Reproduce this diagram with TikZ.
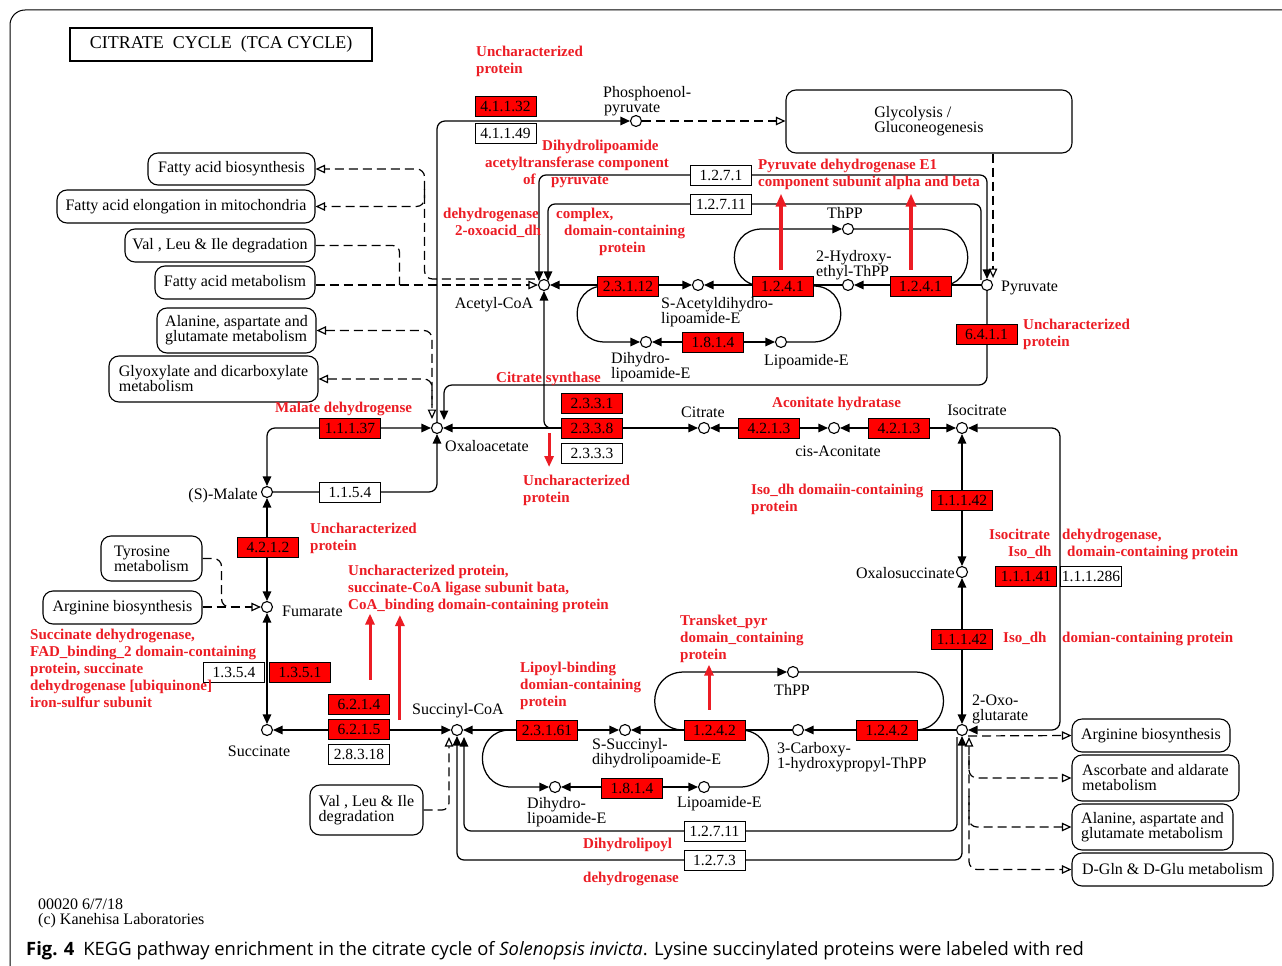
\documentclass[tikz,border=0pt]{standalone}
\usepackage{fontspec}
\setmainfont{Liberation Serif}
\newfontfamily\capfont{Open Sans}
\usetikzlibrary{arrows.meta,calc}
\definecolor{ecred}{RGB}{255,0,0}
\definecolor{annred}{RGB}{236,28,36}
\pgfdeclarelayer{bg}
\pgfsetlayers{bg,main}
\tikzset{
 tri/.tip={Triangle[length=9.5pt,width=8.5pt]},
 otri/.tip={Triangle[open,length=9.5pt,width=8.5pt]},
 cpd/.style={circle,draw,fill=white,line width=1.1pt,minimum size=11pt,inner sep=0pt},
 ecr/.style={draw,line width=0.8pt,fill=ecred,minimum width=61pt,minimum height=20pt,inner sep=0pt,font=\fontsize{15.5}{15}\selectfont},
 ecw/.style={ecr,fill=white},
 pmap/.style={draw,line width=1.1pt,rounded corners=10pt,fill=white,inner sep=0pt,align=left,font=\fontsize{16}{15}\selectfont},
 bl/.style={inner sep=0pt,anchor=base west,font=\fontsize{16}{15}\selectfont},
 blc/.style={bl,anchor=base},
 ble/.style={bl,anchor=base east},
 rl/.style={inner sep=0pt,anchor=base west,text=annred,font=\fontsize{15}{17}\selectfont\bfseries},
 ln/.style={line width=1.25pt},
 dsh/.style={line width=1.2pt,dash pattern=on 9pt off 5pt},
 rarr/.style={draw=annred,line width=3.5pt,-{Triangle[length=13pt,width=10pt]}},
 rarrs/.style={draw=annred,line width=3pt,-{Triangle[length=11pt,width=9pt]}}
}
\begin{document}
\begin{tikzpicture}[x=1pt,y=-1pt]
\useasboundingbox (0,0) rectangle (1282,966);
% ---------- title
\node[draw,line width=2pt,minimum width=302pt,minimum height=33pt,inner sep=0pt,font=\fontsize{18}{18}\selectfont] (title) at (221,44.5) {CITRATE\ \ CYCLE\ \ (TCA CYCLE)};
% ---------- compounds
\node[cpd] (c_pep) at (636,121) {};
\node[cpd] (c_acoa) at (544,285) {};
\node[cpd] (c_pyr) at (987,285) {};
\node[cpd] (c_thppa) at (848,229) {};
\node[cpd] (c_het) at (848,285) {};
\node[cpd] (c_sadl) at (698,285) {};
\node[cpd] (c_dhla) at (646,342) {};
\node[cpd] (c_lipa) at (781,342) {};
\node[cpd] (c_oaa) at (437,428) {};
\node[cpd] (c_cit) at (704,428) {};
\node[cpd] (c_cis) at (834,428) {};
\node[cpd] (c_icit) at (962,428) {};
\node[cpd] (c_mal) at (267,492) {};
\node[cpd] (c_oxs) at (962,572) {};
\node[cpd] (c_fum) at (267,607) {};
\node[cpd] (c_suc) at (267,730) {};
\node[cpd] (c_scoa) at (457,730) {};
\node[cpd] (c_ssdl) at (625,730) {};
\node[cpd] (c_thppb) at (793,672) {};
\node[cpd] (c_chpt) at (798,730) {};
\node[cpd] (c_dhlb) at (555,787) {};
\node[cpd] (c_lipb) at (704,787) {};
\node[cpd] (c_og) at (962,730) {};
% ---------- enzymes
\node[ecr] (e41132) at (505.5,106) {4.1.1.32};
\node[ecw] (e41149) at (505.5,133) {4.1.1.49};
\node[ecw] (e1271) at (721,175) {1.2.7.1};
\node[ecw] (e12711a) at (721,204) {1.2.7.11};
\node[ecr] (e23112) at (628,286) {2.3.1.12};
\node[ecr] (e1241a) at (782.5,286) {1.2.4.1};
\node[ecr] (e1241b) at (920.5,286) {1.2.4.1};
\node[ecr] (e1814a) at (713,342) {1.8.1.4};
\node[ecr] (e6411) at (986.5,334) {6.4.1.1};
\node[ecr] (e2331) at (592,403) {2.3.3.1};
\node[ecr] (e2338) at (592,428) {2.3.3.8};
\node[ecw] (e2333) at (592,453) {2.3.3.3};
\node[ecr] (e4213a) at (769,428) {4.2.1.3};
\node[ecr] (e4213b) at (899,428) {4.2.1.3};
\node[ecr] (e11137) at (350,428) {1.1.1.37};
\node[ecw] (e1154) at (350,492) {1.1.5.4};
\node[ecr] (e11142a) at (962,500) {1.1.1.42};
\node[ecr] (e4212) at (268,547) {4.2.1.2};
\node[ecr] (e11141) at (1026,576) {1.1.1.41};
\node[ecw] (e111286) at (1091,576) {1.1.1.286};
\node[ecr] (e11142b) at (962,639) {1.1.1.42};
\node[ecw] (e1354) at (234,672) {1.3.5.4};
\node[ecr] (e1351) at (300,672) {1.3.5.1};
\node[ecr] (e6214) at (359,704) {6.2.1.4};
\node[ecr] (e6215) at (359,729) {6.2.1.5};
\node[ecw] (e28318) at (359,754) {2.8.3.18};
\node[ecr] (e23161) at (547,730) {2.3.1.61};
\node[ecr] (e1242a) at (714.5,730) {1.2.4.2};
\node[ecr] (e1242b) at (887,730) {1.2.4.2};
\node[ecr] (e1814b) at (632,788) {1.8.1.4};
\node[ecw] (e12711b) at (714.5,831) {1.2.7.11};
\node[ecw] (e1273) at (714.5,860) {1.2.7.3};
% ---------- pathway maps
\node[pmap,minimum width=286pt,minimum height=63pt] (m_gly) at (929,121.5) {Glycolysis /\\Gluconeogenesis};
\node[pmap,minimum width=167pt,minimum height=32pt] (m_fab) at (231.5,169) {Fatty acid biosynthesis};
\node[pmap,minimum width=258pt,minimum height=33pt] (m_fae) at (186,206.5) {Fatty acid elongation in mitochondria};
\node[pmap,minimum width=190pt,minimum height=33pt] (m_vli) at (220,245.5) {Val , Leu \& Ile degradation};
\node[pmap,minimum width=160pt,minimum height=33pt] (m_fam) at (235,282.5) {Fatty acid metabolism};
\node[pmap,minimum width=159pt,minimum height=45pt] (m_ala1) at (236.5,330.5) {Alanine, aspartate and\\glutamate metabolism};
\node[pmap,minimum width=209pt,minimum height=46pt] (m_glx) at (213.5,379) {Glyoxylate and dicarboxylate\\metabolism};
\node[pmap,minimum width=101pt,minimum height=45pt] (m_tyr) at (151.5,558.5) {Tyrosine\\metabolism};
\node[pmap,minimum width=159pt,minimum height=33pt] (m_arg1) at (122.5,607.5) {Arginine biosynthesis};
\node[pmap,minimum width=113pt,minimum height=50pt] (m_vli2) at (366.5,810) {Val , Leu \& Ile\\degradation};
\node[pmap,minimum width=158pt,minimum height=33pt] (m_arg2) at (1151,735.5) {Arginine biosynthesis};
\node[pmap,minimum width=167pt,minimum height=46pt] (m_asc) at (1155.5,778) {Ascorbate and aldarate\\metabolism};
\node[pmap,minimum width=161pt,minimum height=46pt] (m_ala2) at (1152.5,827) {Alanine, aspartate and\\glutamate metabolism};
\node[pmap,minimum width=201pt,minimum height=33pt] (m_dgl) at (1172.5,869.5) {D-Gln \& D-Glu metabolism};
% ---------- compound labels
\node[bl] (t_pep1) at (603,97) {Phosphoenol-};
\node[bl] (t_pep2) at (604,112) {pyruvate};
\node[blc] (t_acoa) at (494,308) {Acetyl-CoA};
\node[bl] (t_pyr) at (1001,291) {Pyruvate};
\node[blc] (t_thppa) at (845,218) {ThPP};
\node[bl] (t_het1) at (816,261) {2-Hydroxy-};
\node[bl] (t_het2) at (816,276) {ethyl-ThPP};
\node[bl] (t_sadl1) at (661,308) {S-Acetyldihydro-};
\node[bl] (t_sadl2) at (661,323) {lipoamide-E};
\node[bl] (t_dhla1) at (611,363) {Dihydro-};
\node[bl] (t_dhla2) at (611,378) {lipoamide-E};
\node[bl] (t_lipa) at (764,365) {Lipoamide-E};
\node[bl] (t_oaa) at (445,451) {Oxaloacetate};
\node[blc] (t_cit) at (703,417) {Citrate};
\node[blc] (t_cis) at (838,456) {cis-Aconitate};
\node[blc] (t_icit) at (977,415) {Isocitrate};
\node[ble] (t_mal) at (258,499) {(S)-Malate};
\node[ble] (t_oxs) at (955,578) {Oxalosuccinate};
\node[bl] (t_fum) at (282,616) {Fumarate};
\node[blc] (t_suc) at (259,756) {Succinate};
\node[blc] (t_scoa) at (458,714) {Succinyl-CoA};
\node[bl] (t_ssdl1) at (592,749) {S-Succinyl-};
\node[bl] (t_ssdl2) at (592,764) {dihydrolipoamide-E};
\node[blc] (t_thppb) at (792,695) {ThPP};
\node[bl] (t_chpt1) at (777,753) {3-Carboxy-};
\node[bl] (t_chpt2) at (777,768) {1-hydroxypropyl-ThPP};
\node[bl] (t_dhlb1) at (527,808) {Dihydro-};
\node[bl] (t_dhlb2) at (527,823) {lipoamide-E};
\node[bl] (t_lipb) at (677,807) {Lipoamide-E};
\node[bl] (t_og1) at (972,705) {2-Oxo-};
\node[bl] (t_og2) at (972,720) {glutarate};
\node[bl] (t_copy1) at (38,909) {00020 6/7/18};
\node[bl] (t_copy2) at (38,924) {(c) Kanehisa Laboratories};
% ---------- red annotations
\node[rl] (r1) at (476,57) {Uncharacterized};
\node[rl] (r2) at (476,74) {protein};
\node[rl] (r3) at (542,150) {Dihydrolipoamide};
\node[rl] (r4) at (485,167) {acetyltransferase component};
\node[rl] (r5) at (523,184) {of};
\node[rl] (r6) at (551,184) {pyruvate};
\node[rl] (r7) at (443,218) {dehydrogenase};
\node[rl] (r8) at (455,235) {2-oxoacid\_dh};
\node[rl] (r9) at (556,218) {complex,};
\node[rl] (r10) at (564,235) {domain-containing};
\node[rl] (r11) at (599,252) {protein};
\node[rl] (r12) at (758,169) {Pyruvate dehydrogenase E1};
\node[rl] (r13) at (758,186) {component subunit alpha and beta};
\node[rl] (r14) at (1023,329) {Uncharacterized};
\node[rl] (r15) at (1023,346) {protein};
\node[rl] (r16) at (496,382) {Citrate synthase};
\node[rl] (r17) at (275,412) {Malate dehydrogense};
\node[rl] (r18) at (772,407) {Aconitate hydratase};
\node[rl] (r19) at (523,485) {Uncharacterized};
\node[rl] (r20) at (523,502) {protein};
\node[rl] (r21) at (751,494) {Iso\_dh domaiin-containing};
\node[rl] (r22) at (751,511) {protein};
\node[rl] (r23) at (989,539) {Isocitrate};
\node[rl] (r24) at (1062,539) {dehydrogenase,};
\node[rl] (r25) at (1008,556) {Iso\_dh};
\node[rl] (r26) at (1067,556) {domain-containing protein};
\node[rl] (r27) at (1003,642) {Iso\_dh};
\node[rl] (r28) at (1062,642) {domian-containing protein};
\node[rl] (r29) at (310,533) {Uncharacterized};
\node[rl] (r30) at (310,550) {protein};
\node[rl] (r31) at (348,575) {Uncharacterized protein,};
\node[rl] (r32) at (348,592) {succinate-CoA ligase subunit bata,};
\node[rl] (r33) at (348,609) {CoA\_binding domain-containing protein};
\node[rl] (r34) at (30,639) {Succinate dehydrogenase,};
\node[rl] (r35) at (30,656) {FAD\_binding\_2 domain-containing};
\node[rl] (r36) at (30,673) {protein, succinate};
\node[rl] (r37) at (30,690) {dehydrogenase [ubiquinone]};
\node[rl] (r38) at (30,707) {iron-sulfur subunit};
\node[rl] (r39) at (680,625) {Transket\_pyr};
\node[rl] (r40) at (680,642) {domain\_containing};
\node[rl] (r41) at (680,659) {protein};
\node[rl] (r42) at (520,672) {Lipoyl-binding};
\node[rl] (r43) at (520,689) {domian-containing};
\node[rl] (r44) at (520,706) {protein};
\node[rl] (r45) at (583,848) {Dihydrolipoyl};
\node[rl] (r46) at (583,882) {dehydrogenase};
% red arrows
\draw[rarr] ($(e1241a.north)+(-1.5,-6)$) -- ++(0,-76);
\draw[rarr] ($(e1241b.north)+(-9.5,-6)$) -- ++(0,-76);
\draw[rarrs] ($(e2338.west)+(-12,5)$) -- ++(0,34);
\draw[rarrs] ($(e6214.north)+(11,-14)$) -- ++(0,-66);
\draw[rarrs] ($(e6215.east)+(10,-9)$) -- ++(0,-105);
\draw[rarrs] ($(e1242a.north)+(-5.5,-10)$) -- ++(0,-45);
% caption
\node[anchor=base west,inner sep=0pt,font=\capfont\fontsize{18.4}{19}\selectfont] (cap) at (26,955) {\textbf{Fig. 4}\hspace{9pt}KEGG pathway enrichment in the citrate cycle of \textit{Solenopsis invicta}. Lysine succinylated proteins were labeled with red};
% ---------- connectors
\begin{pgfonlayer}{bg}
\fill[white] (0,0) rectangle (1282,966);
\draw[line width=1pt,rounded corners=15pt] (10,990) -- (10,10) -- (1300,10);
% PEP / glycolysis
\draw[ln,-tri,rounded corners=8pt] (c_oaa.north) |- (c_pep);
\draw[dsh,-otri] (c_pep) -- (m_gly.west |- c_pep);
\draw[dsh,-otri] (m_gly.south -| c_pyr.east) -- ($(c_pyr.east)+(0,-7)$);
% pyruvate -> acetyl-CoA
\draw[ln,tri-tri,rounded corners=7pt] ($(c_acoa.north)+(-5,2)$) |- (e1271.center) -| (c_pyr.north);
\draw[ln,tri-,rounded corners=7pt] ($(c_acoa.north)+(4,2)$) |- (e12711a.center) -| ($(c_pyr.north)+(-6,1)$);
\draw[ln,-tri] (c_pyr) -- (c_het);
\draw[ln,-tri] (c_het) -- (c_sadl);
\draw[ln,tri-tri] (c_sadl) -- (c_acoa);
\draw[ln,-tri] ($(e1241a.center)+(-20,0)$) .. controls (725,286) and (725,229) .. (762,229) -- (c_thppa);
\draw[ln] (c_thppa) -- (940,229) .. controls (977,229) and (977,286) .. ($(e1241b.center)+(19.5,0)$);
\draw[ln] (c_lipa) -- (813,342) .. controls (850,342) and (850,286) .. (e1241a.east);
\draw[ln,tri-tri] (c_dhla) -- (c_lipa);
\draw[ln,-tri] ($(e23112.west)+(7,0)$) .. controls (568,286) and (568,342) .. (605,342) -- (c_dhla);
% pyruvate -> oxaloacetate
\draw[ln,-tri,rounded corners=8pt] (c_pyr.south) |- ($(c_oaa)+(7,-43)$) -- ($(c_oaa)+(7,-8)$);
% maps -> oxaloacetate
\draw[dsh,otri-otri,rounded corners=8pt] (m_ala1.east) -| ($(c_oaa)+(-5,-9)$);
\draw[dsh,otri-,rounded corners=8pt] (m_glx.east) -| ($(c_oaa)+(-5,-20)$);
% maps <-> acetyl-CoA
\draw[dsh,-otri] (m_fam.east |- c_acoa) -- (c_acoa);
\draw[dsh,-otri,rounded corners=8pt] ($(c_acoa.west)+(-3,-6)$) -| ($(m_fab.east)+(109,20)$) |- (m_fab.east);
\draw[dsh,-otri,rounded corners=8pt] ($(m_fab.east)+(109,20)$) |- (m_fae.east);
\draw[dsh,rounded corners=7pt] (m_vli.east) -| ($(m_fam.east |- c_acoa)+(84,0)$);
% citrate synthase
\draw[ln,tri-tri] (c_cit) -- (c_oaa);
\draw[ln,tri-,rounded corners=7pt] (c_acoa.south) |- (e2338.west);
% aconitase, IDH
\draw[ln,tri-tri] (c_cit) -- (c_cis);
\draw[ln,tri-tri] (c_cis) -- (c_icit);
\draw[ln,tri-tri] (c_icit) -- (c_oxs);
\draw[ln,tri-tri] (c_oxs) -- (c_og);
\draw[ln,tri-tri,rounded corners=8pt] (c_icit) -| ($(e11141.east)+(3,0)$) |- (c_og);
% malate
\draw[ln,tri-tri,rounded corners=8pt] (c_mal) |- (c_oaa);
\draw[ln,-tri,rounded corners=8pt] (c_mal) -| (c_oaa);
\draw[ln,tri-tri] (c_fum) -- (c_mal);
\draw[ln,tri-tri] (c_suc) -- (c_fum);
\draw[dsh,rounded corners=8pt] (m_tyr.east) -| ($(m_arg1.east |- c_fum)+(19,0)$) -- ($(m_arg1.east |- c_fum)+(30,0)$);
\draw[dsh,-otri] (m_arg1.east |- c_fum) -- (c_fum);
% succinyl-CoA
\draw[ln,tri-tri] (c_scoa) -- (c_suc);
\draw[ln,-tri] (c_og) -- (c_chpt);
\draw[ln,-tri] (c_chpt) -- (c_ssdl);
\draw[ln,tri-tri] (c_scoa) -- (c_ssdl);
\draw[ln,-tri] (e1242a.west) .. controls (645,730) and (645,672) .. (684,672) -- (c_thppb);
\draw[ln] (c_thppb) -- (915,672) .. controls (953,672) and (953,730) .. ($(e1242b.center)+(28,0)$);
\draw[ln] (c_lipb) -- (740,787) .. controls (778,787) and (778,730) .. ($(e1242a.center)+(25.5,0)$);
\draw[ln,tri-tri] (c_dhlb) -- (c_lipb);
\draw[ln,-tri] ($(e23161.west)+(-6,0)$) .. controls (473,730) and (473,787) .. (511,787) -- (c_dhlb);
\draw[ln,-tri,rounded corners=7pt] ($(c_og.south)+(-5,1)$) |- (e12711b.center) -| ($(c_scoa.south)+(7,1)$);
\draw[ln,tri-tri,rounded corners=7pt] (c_og.south) |- (e1273.center) -| (c_scoa.south);
\draw[dsh,-otri,rounded corners=7pt] (m_vli2.east) -| ($(c_scoa.south)+(-8,1)$);
% 2-oxoglutarate -> maps
\draw[dsh,-otri] ($(c_og.east)+(0,6)$) -- (m_arg2.west);
\draw[dsh,otri-otri,rounded corners=8pt] ($(c_og.south)+(7,1)$) |- (m_dgl.west);
\draw[dsh,-otri,rounded corners=8pt] ($(c_og.south)+(7,20)$) |- (m_asc.west);
\draw[dsh,-otri,rounded corners=8pt] ($(c_og.south)+(7,60)$) |- (m_ala2.west);
\end{pgfonlayer}
\end{tikzpicture}
\end{document}
